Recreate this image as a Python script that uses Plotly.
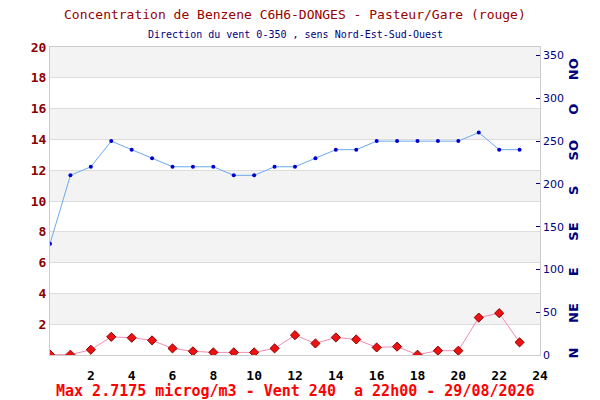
import plotly.graph_objects as go

# hourly values, 0h .. 23h
hours = list(range(24))
benzene = [0.03, 0.02, 0.34, 1.18, 1.12, 0.95, 0.43, 0.24, 0.17, 0.17, 0.17, 0.43,
           1.29, 0.75, 1.14, 1.01, 0.49, 0.54, 0.02, 0.28, 0.28, 2.43, 2.7175, 0.82]
wind = [130, 210, 220, 250, 240, 230, 220, 220, 220, 210, 210, 220,
        220, 230, 240, 240, 250, 250, 250, 250, 250, 260, 240, 240]

left_ticks = list(range(2, 21, 2))
x_ticks = list(range(2, 25, 2))
right_ticks = list(range(0, 351, 50))
compass = ['N', 'NE', 'E', 'SE', 'S', 'SO', 'O', 'NO']

title = 'Concentration de Benzene C6H6-DONGES - Pasteur/Gare (rouge)'
subtitle = 'Direction du vent 0-350 , sens Nord-Est-Sud-Ouest'
footer = 'Max 2.7175 microg/m3 - Vent 240  a 22h00 - 29/08/2026'

mono = 'DejaVu Sans Mono'
navy = '#000080'
darkred = '#8b0000'

fig = go.Figure()

fig.add_trace(go.Scatter(
    x=hours, y=wind, yaxis='y2', mode='lines+markers',
    line={'color': '#6aaaf0', 'width': 1},
    marker={'color': '#0000cc', 'size': 4}))

fig.add_trace(go.Scatter(
    x=hours, y=benzene, mode='lines+markers',
    line={'color': '#f08cb4', 'width': 1},
    marker={'symbol': 'diamond', 'color': '#ee1111', 'size': 7,
            'line': {'color': '#880000', 'width': 1}}))

# alternating grey bands
shapes = []
for lo in range(0, 20, 2):
    if (lo // 2) % 2 == 1:
        shapes.append(dict(type='rect', xref='paper', yref='y', x0=0, x1=1,
                           y0=lo, y1=lo + 2, fillcolor='#f3f3f3',
                           line={'width': 0}, layer='below'))

annotations = [
    dict(text=title, x=0.5, y=1.107, xref='paper', yref='paper',
         xanchor='center', yanchor='middle', showarrow=False,
         font={'family': mono, 'size': 13, 'color': '#990000'}),
    dict(text=subtitle, x=0.5, y=1.042, xref='paper', yref='paper',
         xanchor='center', yanchor='middle', showarrow=False,
         font={'family': mono, 'size': 10, 'color': navy}),
    dict(text=footer, x=0.5, y=-0.117, xref='paper', yref='paper',
         xanchor='center', yanchor='middle', showarrow=False,
         font={'family': mono, 'size': 15, 'color': '#ff0000', 'weight': 'bold'}),
]
for deg, name in zip(right_ticks, compass):
    annotations.append(dict(
        text=name, x=1.068, y=deg * 0.95 + 2, xref='paper', yref='y2',
        xanchor='center', yanchor='middle', showarrow=False, textangle=-90,
        font={'family': 'DejaVu Sans', 'size': 13, 'color': navy, 'weight': 'bold'}))

# page body has an 8px margin, so the margins are shifted by 8px
fig.update_layout(
    width=600, height=400,
    margin=dict(l=42, r=68, t=39, b=53, autoexpand=False),
    paper_bgcolor='white', plot_bgcolor='white',
    showlegend=False,
    shapes=shapes,
    annotations=annotations,
    xaxis=dict(range=[0, 24], tickvals=x_ticks, showgrid=False, zeroline=False,
               showline=True, linecolor='#cccccc', mirror=True, automargin=False,
               ticklabelstandoff=8,
               tickfont={'family': mono, 'size': 13, 'color': 'black', 'weight': 'bold'}),
    yaxis=dict(range=[0, 20], tickvals=left_ticks, showgrid=True, gridcolor='#dddddd',
               zeroline=False, showline=True, linecolor='#cccccc', mirror=True,
               automargin=False,
               tickfont={'family': mono, 'size': 13, 'color': darkred, 'weight': 'bold'}),
    yaxis2=dict(range=[0, 360], tickvals=right_ticks, overlaying='y', side='right',
                showgrid=False, zeroline=False, ticks='inside', ticklen=4,
                tickcolor=navy, automargin=False, ticklabelstandoff=2,
                tickfont={'family': 'DejaVu Sans', 'size': 11, 'color': navy}),
)

fig.write_html('out.html')
